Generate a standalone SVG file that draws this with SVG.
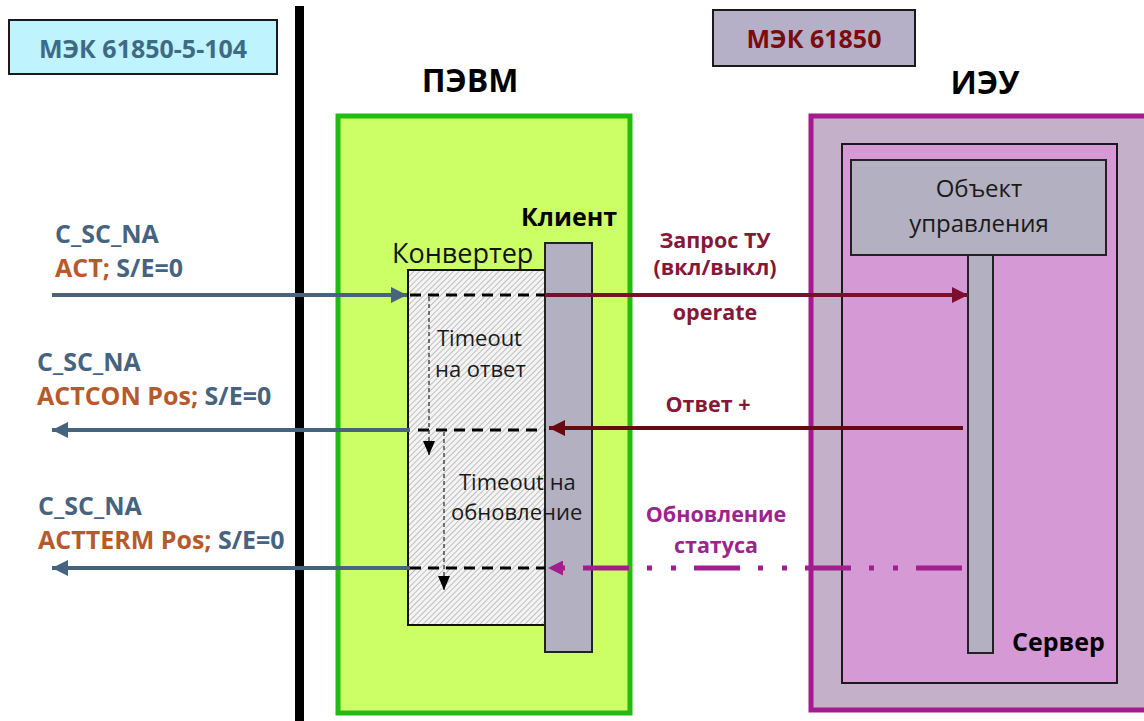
<svg xmlns="http://www.w3.org/2000/svg" width="1144" height="721" viewBox="0 0 1144 721">
  <style>
    text { font-family: "Open Sans", "Noto Sans", "DejaVu Sans", sans-serif; }
    .b { font-weight: bold; }
    .lbl { font-size: 25px; font-weight: bold; }
    .blue { fill: #46637f; }
    .orange { fill: #b65a2c; }
    .title { font-size: 32px; font-weight: bold; fill: #000; }
    .plain { font-size: 22px; fill: #1a1a1a; }
    .grey { fill: #b3b0c2; stroke: #222; stroke-width: 2; }
    .dash { stroke: #000; stroke-width: 3; stroke-dasharray: 11 7; fill: none; }
    .thin { stroke: #333; stroke-width: 1.3; stroke-dasharray: 4 3; fill: none; }
    .iec { stroke: #46637f; stroke-width: 4; fill: none; }
  </style>
  <defs>
    <pattern id="hatch" width="4" height="4" patternUnits="userSpaceOnUse" patternTransform="rotate(45)">
      <rect width="4" height="4" fill="#f4f4f4"/>
      <line x1="0" y1="0" x2="0" y2="4" stroke="#a8a8a8" stroke-width="1.4"/>
    </pattern>
    <marker id="arrBlue" viewBox="0 0 10 10" refX="10" refY="5" markerWidth="4.5" markerHeight="4" markerUnits="strokeWidth" orient="auto">
      <path d="M0,0 L10,5 L0,10 z" fill="#46637f"/>
    </marker>
    <marker id="arrMaroon" viewBox="0 0 10 10" refX="10" refY="5" markerWidth="4.5" markerHeight="4" markerUnits="strokeWidth" orient="auto">
      <path d="M0,0 L10,5 L0,10 z" fill="#7c0f2e"/>
    </marker>
    <marker id="arrDark" viewBox="0 0 10 10" refX="10" refY="5" markerWidth="4.5" markerHeight="4" markerUnits="strokeWidth" orient="auto">
      <path d="M0,0 L10,5 L0,10 z" fill="#680a12"/>
    </marker>
    <marker id="arrPurple" viewBox="0 0 10 10" refX="10" refY="5" markerWidth="3.4" markerHeight="3" markerUnits="strokeWidth" orient="auto">
      <path d="M0,0 L10,5 L0,10 z" fill="#a01f8c"/>
    </marker>
    <marker id="arrBlack" viewBox="0 0 14 12" refX="14" refY="6" markerWidth="14" markerHeight="12" markerUnits="userSpaceOnUse" orient="auto">
      <path d="M0,0 L14,6 L0,12 z" fill="#000"/>
    </marker>
  </defs>

  <rect width="1144" height="721" fill="#fff"/>

  <!-- protocol headers -->
  <g id="iec104">
    <rect x="9" y="20" width="268" height="54" fill="#bff3fe" stroke="#1a1a1a" stroke-width="2"/>
    <text x="143" y="58" text-anchor="middle" font-size="25" class="b" fill="#3e6a84">МЭК 61850-5-104</text>
  </g>
  <g id="iec61850">
    <rect x="713" y="10" width="202" height="56" fill="#b5b0c8" stroke="#1a1a1a" stroke-width="2"/>
    <text x="814" y="48" text-anchor="middle" font-size="25" class="b" fill="#7a0c10">МЭК 61850</text>
  </g>

  <!-- boundary between networks -->
  <rect id="boundary" x="295" y="6" width="9" height="715" fill="#000"/>

  <!-- PC -->
  <g id="pc">
    <text x="470" y="92" text-anchor="middle" class="title">ПЭВМ</text>
    <rect x="338" y="116" width="292" height="597" fill="#ccff66" stroke="#22bb11" stroke-width="5"/>
  </g>

  <!-- IED -->
  <g id="ied">
    <text x="985" y="94" text-anchor="middle" class="title">ИЭУ</text>
    <rect x="811" y="116" width="340" height="594" fill="#c5b0ca" stroke="#a31b8c" stroke-width="5"/>
  </g>
  <g id="server">
    <rect x="842" y="144" width="275" height="539" fill="#d59ad6" stroke="#1a1a1a" stroke-width="2"/>
    <text x="1012" y="651" font-size="25" class="b" fill="#000">Сервер</text>
  </g>
  <g id="control-object">
    <rect x="851" y="160" width="255" height="95" class="grey"/>
    <text x="979" y="197" text-anchor="middle" font-size="24" fill="#1a1a1a">Объект</text>
    <text x="979" y="232" text-anchor="middle" font-size="24" fill="#1a1a1a">управления</text>
  </g>
  <rect id="server-lifeline" x="968" y="255" width="25" height="398" class="grey"/>

  <!-- converter with timeouts -->
  <g id="converter">
    <rect x="408" y="270" width="137" height="355" fill="url(#hatch)" stroke="#111" stroke-width="2"/>
    <text x="392" y="263" font-size="27" fill="#111">Конвертер</text>
  </g>
  <g id="client">
    <rect x="545" y="243" width="47" height="409" class="grey"/>
    <text x="521" y="226" font-size="25" class="b" fill="#000">Клиент</text>
  </g>
  <g id="timeouts">
    <text x="437" y="346" class="plain">Timeout</text>
    <text x="435" y="377" class="plain">на ответ</text>
    <text x="459" y="490" class="plain">Timeout на</text>
    <text x="451" y="520" class="plain">обновление</text>
  </g>

  <!-- connectors -->
  <g id="connectors">
    <!-- IEC 60870-5-104 side -->
    <line x1="52" y1="295" x2="407" y2="295" class="iec" marker-end="url(#arrBlue)"/>
    <line x1="410" y1="430" x2="52" y2="430" class="iec" marker-end="url(#arrBlue)"/>
    <line x1="410" y1="568" x2="52" y2="568" class="iec" marker-end="url(#arrBlue)"/>

    <!-- internal conversion -->
    <line x1="410" y1="295" x2="545" y2="295" class="dash"/>
    <line x1="418" y1="430" x2="545" y2="430" class="dash"/>
    <line x1="410" y1="568" x2="545" y2="568" class="dash"/>
    <line x1="429" y1="297" x2="429" y2="455" class="thin" marker-end="url(#arrBlack)"/>
    <line x1="444" y1="432" x2="444" y2="590" class="thin" marker-end="url(#arrBlack)"/>

    <!-- IEC 61850 side -->
    <line x1="545" y1="295" x2="968" y2="295" stroke="#7c0f2e" stroke-width="4" marker-end="url(#arrMaroon)"/>
    <line x1="963" y1="428" x2="549" y2="428" stroke="#680a12" stroke-width="4" marker-end="url(#arrDark)"/>
    <line x1="962" y1="568" x2="548" y2="568" stroke="#a01f8c" stroke-width="5" stroke-dasharray="46 18 5 19 5 18" marker-end="url(#arrPurple)"/>
  </g>

  <!-- message labels -->
  <g id="labels-104">
    <text x="55" y="243" class="lbl blue">C_SC_NA</text>
    <text x="55" y="277" class="lbl"><tspan class="orange">ACT;</tspan><tspan class="blue"> S/E=0</tspan></text>
    <text x="37" y="371" class="lbl blue">C_SC_NA</text>
    <text x="37" y="405" class="lbl"><tspan class="orange">ACTCON Pos;</tspan><tspan class="blue"> S/E=0</tspan></text>
    <text x="38" y="515" class="lbl blue">C_SC_NA</text>
    <text x="38" y="549" class="lbl"><tspan class="orange">ACTTERM Pos;</tspan><tspan class="blue"> S/E=0</tspan></text>
  </g>
  <g id="labels-61850" font-size="21.5" font-weight="bold" text-anchor="middle">
    <text x="715" y="248" fill="#871736">Запрос ТУ</text>
    <text x="715" y="275" fill="#871736">(вкл/выкл)</text>
    <text x="715" y="320" fill="#871736">operate</text>
    <text x="708" y="412" fill="#871736">Ответ +</text>
    <text x="716" y="522" fill="#9c248c">Обновление</text>
    <text x="716" y="553" fill="#9c248c">статуса</text>
  </g>
</svg>
